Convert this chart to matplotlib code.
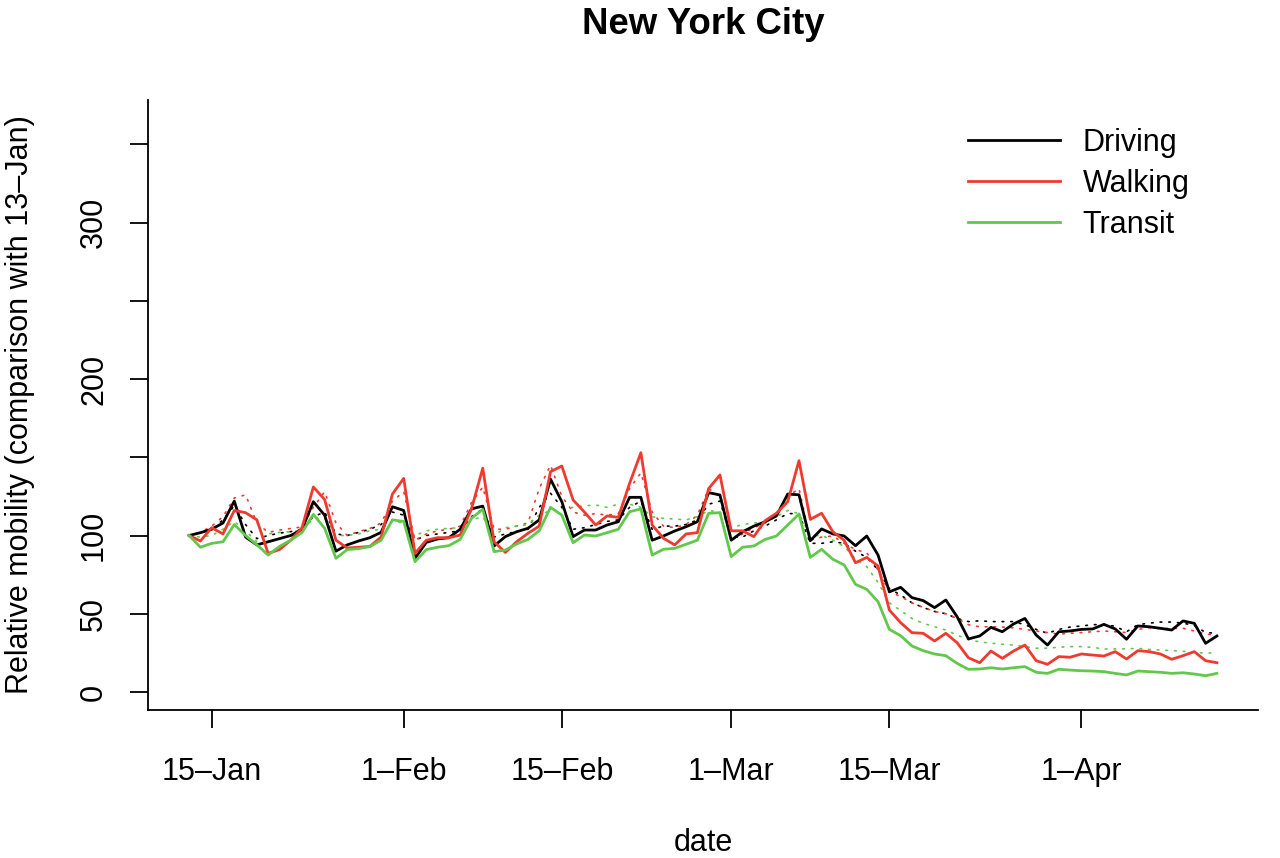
import matplotlib
matplotlib.use("Agg")
import matplotlib.pyplot as plt
import matplotlib.dates as mdates
import pandas as pd
from matplotlib.lines import Line2D

plt.rcParams['font.family'] = ['Liberation Sans', 'DejaVu Sans']

dates = pd.date_range('2020-01-13', periods=92, freq='D')

driving = [100,101.8,104,108,122,99,94,96,98,100,104,121.6,113,90,94,96.5,98.6,102,118.4,
           116,85.4,95.6,97.8,98.6,104,117,118.8,93.3,99.3,102.4,104.6,110,136,121.6,99.3,103.5,103.5,
           106.7,108.8,124.4,124.4,97,99.7,102.9,105.6,108.8,127.4,125.9,97,102.4,106,108.8,112.5,126.5,126,
           96.7,104.2,101,99.7,93.5,99.7,87.5,64,66.9,60.3,58.4,53.9,58.8,48.1,33.9,35.8,41.3,38.5,
           43.5,47,36.4,30,38.5,39,40,40.3,43.2,40.3,33.7,42.2,41.7,40.7,39.6,45.4,43.9,31.1,35.8]
walking = [100,96.5,105,101,116,114.6,110,88.6,91,97,105,131,123,97,92,92.5,93,99,126.5,
           136.5,88.6,97,98.6,98.6,100.3,117,143,96,89.2,96,101.4,106,140.8,144.4,122.7,115,106.7,
           112.5,111.6,133.3,152.9,106.7,98.2,94,101,101.8,130,138.7,103,103,99.3,109.5,114.2,121.6,147.8,
           110.3,114.2,102.4,97,82.6,86,80.5,52.4,44.3,37.9,37.5,32.6,37.5,31.5,21.9,18.7,26.2,21.5,
           26.2,30,20,17.7,22.6,22.2,24.3,23.6,23,25.8,21.1,26.4,25.8,24.3,20.9,23.2,25.8,20,18.7]
transit = [100,92.5,95,96,107,100,94,87.5,93,97,102,113.5,104.6,85.4,91,91.6,92.9,97,110,
           109,83.3,91,92.5,93.5,97.5,111,116.7,89.7,90.7,94.6,97.5,103,118,113,95.4,100.3,99.7,
           101.8,104,115.2,117,87.5,91.2,91.8,94.4,97,114.2,114.6,86.5,92.5,93.3,97.5,99.7,106.7,113.7,
           86,91.2,84.8,81.2,68.8,65.6,57.7,40,36,29.4,26.4,24.3,23.2,18.3,14.5,14.7,15.5,14.7,
           15.5,16.2,12.6,11.9,14.5,14,13.6,13.4,13,11.9,10.9,13.4,13,12.6,11.9,12.3,11.5,10.4,11.9]

driving_dot = [100,102,104,110,119,107,98,100,101.5,102.5,104,112,115,101,100,102,104,107,115,
               113,97,100,101,102,103,112,117,99,101,102.5,104,118,127,118,104,105,107,
               109,110,118,122,104,106,106,107,110,120,122,99,99,103,106,110,114,114,
               95,95,96,95,90,86,78,66,62,57,54,51.5,50,47,45,45.5,45,45,
               45,43,40,37.5,40,41.5,42.2,43,43.2,42,38.5,43,44,44.7,44.7,44,42.5,38,37.5]
walking_dot = [100,102,106,112,124,126,108,102,103.5,104.5,105.5,118,128,108,100,102.5,104.5,108,122,
               128,97,101,103,104,106,121,131,104,104,106,108,130,145,125,115,113,114,
               113,114,130,140,115,106,105,107,113,130,125,97,101,105,108,114,125,130,
               97,99,99.7,95,91,89,78,64,61,57,54,51.5,50,47,43,41.7,41.7,41.5,
               41,40,39,38,37,37.5,38,38.5,39,38.5,38,40,41,40.5,40.7,40.7,39,37,36.4]
transit_dot = [100,99,100,104,109,103,96,101,102,102.5,103,111,111,100,100,101,103,104,109,
               108,100,103,104,104.6,105,110,112,100,105,106,107,113,116,117,118,119,119.5,
               118,120,120,118,112,111,110.5,110,112,116,115,105,107,108,108.5,112,116,114,
               100,100,97,93,85,80,70,57,52,47,43.9,41.7,39.6,36.4,33.5,32,31.2,30.5,
               30,29,28,28,28.6,29,29,28.5,27.5,27.5,27.6,27.9,27.2,26.8,26.5,26,25.5,24.7,25.4]

series_names = ['Driving', 'Walking', 'Transit']
colors = ['black', '#EE3A2F', '#61C84C']

xtick_dates = pd.to_datetime(['2020-01-15', '2020-02-01', '2020-02-15',
                              '2020-03-01', '2020-03-15', '2020-04-01'])
xtick_labels = ['15\u2013Jan', '1\u2013Feb', '15\u2013Feb', '1\u2013Mar', '15\u2013Mar', '1\u2013Apr']
ytick_vals = [0, 50, 100, 150, 200, 250, 300, 350]
ytick_labels = ['0', '50', '100', '', '200', '', '300', '']

FS = 22

fig = plt.figure(figsize=(12.8, 8.58), dpi=100)
ax = fig.add_axes([148/1280, 1 - 710/858, 1110/1280, 610/858])

solid = [driving, walking, transit]
dotted = [driving_dot, walking_dot, transit_dot]
for vals, c in zip(dotted, colors):
    ax.plot(dates, vals, color=c, lw=1.2, dashes=(1, 4.2), dash_capstyle='round')
for vals, c in zip(solid, colors):
    ax.plot(dates, vals, color=c, lw=2.0)

span = (dates[-1] - dates[0])
ax.set_xlim(dates[0] - span * 0.04, dates[-1] + span * 0.04)
ax.set_ylim(-11.5, 378.3)

ax.set_xticks(xtick_dates)
ax.set_xticklabels(xtick_labels, fontsize=FS)
ax.set_yticks(ytick_vals)
ax.set_yticklabels(ytick_labels, fontsize=FS, rotation=90, va='center')

for s in ['top', 'right']:
    ax.spines[s].set_visible(False)
for s in ['left', 'bottom']:
    ax.spines[s].set_linewidth(1.3)
ax.tick_params(axis='both', length=13, width=1.3, direction='out')
ax.tick_params(axis='x', pad=21)
ax.tick_params(axis='y', pad=15)

fig.text(703/1280, 1 - 25/858, 'New York City', ha='center', va='center',
         fontsize=26.4, fontweight='bold')
fig.text(703/1280, 1 - 843/858, 'date', ha='center', va='center', fontsize=FS)
fig.text(20/1280, 1 - 405/858, 'Relative mobility (comparison with 13\u2013Jan)',
         ha='center', va='center', rotation=90, fontsize=FS)

handles = [Line2D([0], [0], color=c, lw=2.0) for c in colors]
ax.legend(handles, series_names, loc='upper left', frameon=False, fontsize=FS,
          bbox_to_anchor=(968/1280, 1 - 128/858), bbox_transform=fig.transFigure,
          borderpad=0, borderaxespad=0, handlelength=3.0, handletextpad=0.75,
          labelspacing=0.36)

fig.savefig('out.png', dpi=100)
